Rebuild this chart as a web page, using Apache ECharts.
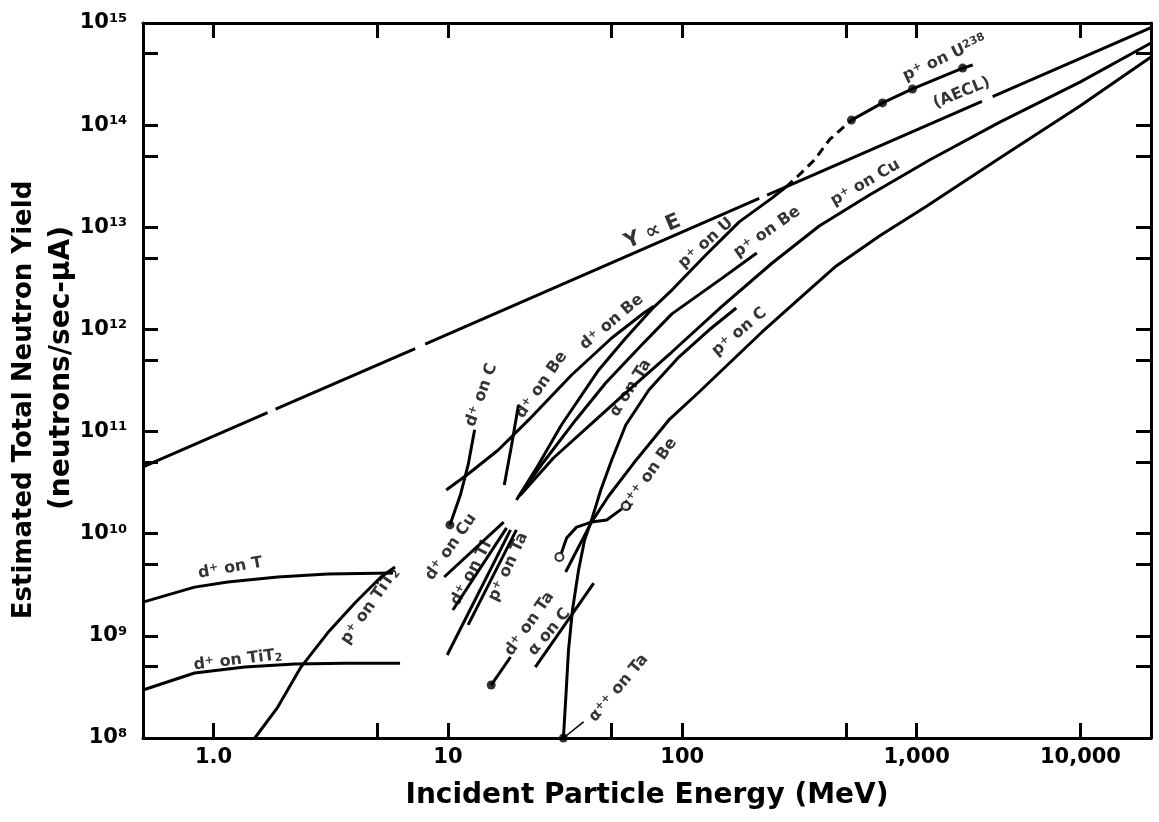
<!DOCTYPE html>
<html>
<head>
<meta charset="utf-8">
<title>Estimated Total Neutron Yield</title>
<script src="https://cdn.jsdelivr.net/npm/echarts@6/dist/echarts.min.js"></script>
<style>
  html, body { margin: 0; padding: 0; background: #fff; }
  #chart { width: 1159px; height: 822px; }
</style>
</head>
<body>
<div id="chart"></div>
<script>
// ---- axes ----
const xTicks = [1, 5, 10, 50, 100, 500, 1000, 5000];
const xLabelValues = [1, 10, 100, 1000, 5000];
const xLabelText = ['1.0', '10', '100', '1,000', '10,000'];
const yTicks = [1e8, 5e8, 1e9, 5e9, 1e10, 5e10, 1e11, 5e11, 1e12, 5e12, 1e13, 5e13, 1e14, 5e14, 1e15];
// top label nudged just under 1e15 so the log extent rounding does not drop it
const yLabelValues = [1e8, 1e9, 1e10, 1e11, 1e12, 1e13, 1e14, 0.99999e15];

// ---- curves: [energy MeV, yield n/sec-uA] ----
// Y ∝ E drawn in pieces (small breaks in the original line)
const yPropE = [
  [[0.5, 4.5e10], [1.70, 1.53e11]],
  [[1.84, 1.66e11], [7.25, 6.5e11]],
  [[8.0, 7.2e11], [213, 1.92e13]],
  [[230, 2.07e13], [1900, 1.71e14]],
  [[2110, 1.9e14], [10000, 9.0e14]]
];
const pOnU238Dashed = [[277, 2.48e13], [315, 3.25e13], [366, 4.56e13], [424, 7.16e13], [527, 1.12e14]];
const pOnU238 = [[527, 1.12e14], [715, 1.65e14], [960, 2.26e14], [1572, 3.62e14], [1735, 3.88e14]];
const aeclPoints = [[527, 1.12e14], [715, 1.65e14], [960, 2.26e14], [1572, 3.62e14]];
const pOnU = [[19.6, 2.14e10], [24.3, 4.71e10], [30.5, 1.16e11], [44.0, 4.01e11], [57.4, 8.24e11], [74.1, 1.58e12],
  [90.3, 2.43e12], [126, 5.35e12], [175, 1.13e13], [242, 1.94e13], [277, 2.48e13]];
const pOnBe = [[20.0, 2.29e10], [25.6, 5.04e10], [35.1, 1.30e11], [47.1, 2.99e11], [65.2, 6.58e11], [90.3, 1.42e12],
  [148, 3.18e12], [208, 5.60e12]];
const pOnCu = [[20.4, 2.39e10], [28.2, 5.51e10], [42.7, 1.30e11], [59.1, 2.55e11], [90.3, 6.01e11], [148, 1.69e12],
  [242, 4.47e12], [384, 1.03e13], [629, 2.07e13], [1135, 4.56e13], [2265, 1.07e14], [4977, 2.64e14], [10000, 6.37e14]];
const pOnC = [[31.8, 4.22e9], [36.1, 7.41e9], [41.0, 1.30e10], [48.5, 2.34e10], [62.1, 4.92e10], [87.7, 1.30e11],
  [118, 2.44e11], [148, 4.01e11], [219, 9.44e11], [315, 1.99e12], [454, 4.18e12], [694, 8.22e12], [1102, 1.61e13],
  [2265, 4.77e13], [4977, 1.54e14], [10000, 4.65e14]];
const alphaOnTa = [[31.1, 1.0e8], [31.8, 2.35e8], [32.7, 7.26e8], [34.0, 1.79e9], [36.1, 4.41e9], [38.3, 8.68e9],
  [41.0, 1.36e10], [44.9, 2.68e10], [50.0, 5.27e10], [57.4, 1.16e11], [72.0, 2.55e11], [96.7, 5.37e11],
  [130, 9.87e11], [170, 1.62e12]];
const alphaPPOnBe = [[30.5, 6.47e9], [32.1, 9.08e9], [35.4, 1.16e10], [41.0, 1.30e10], [47.6, 1.36e10], [55.2, 1.75e10]];
const dOnBe = [[9.84, 2.68e10], [12.2, 3.84e10], [16.4, 6.60e10], [22.1, 1.30e11], [33.7, 3.58e11], [50.0, 8.24e11],
  [68.5, 1.45e12], [75.6, 1.69e12]];
const dOnBeShort = [[20.0, 1.82e11], [18.7, 7.38e10], [17.4, 3.0e10]];
const dOnC = [[10.2, 1.22e10], [11.3, 2.39e10], [12.2, 4.71e10], [13.0, 1.04e11]];
const dOnCu = [[9.64, 3.77e9], [17.3, 1.30e10]];
const dOnTi = [[10.5, 1.79e9], [17.8, 1.14e10]];
const dOnTiLow = [[9.93, 6.49e8], [18.5, 1.09e10]];
const pOnTa = [[12.2, 1.28e9], [19.6, 1.09e10]];
const dOnTa = [[15.3, 3.30e8], [18.5, 6.21e8]];
const alphaOnC = [[23.6, 4.95e8], [41.9, 3.29e9]];
const dOnT = [[0.5, 2.14e9], [0.83, 3.0e9], [1.15, 3.37e9], [1.88, 3.77e9], [3.07, 4.03e9], [5.83, 4.12e9]];
const dOnTiT2 = [[0.5, 2.95e8], [0.83, 4.33e8], [1.36, 4.95e8], [2.22, 5.3e8], [3.63, 5.4e8], [6.25, 5.4e8]];
const pOnTiT2 = [[1.50, 1.0e8], [1.88, 2.01e8], [2.36, 4.95e8], [3.07, 1.07e9], [4.01, 2.10e9], [5.18, 3.77e9], [5.95, 4.72e9]];
const alphaPPOnTaLeader = [[31.1, 1.0e8], [37.9, 1.44e8]];
const filledDots = [[31.1, 1.0e8], [15.3, 3.30e8], [10.2, 1.22e10]];
const openDots = [[29.9, 5.91e9], [57.4, 1.87e10]];

// curve labels: text, energy, yield, angle
const curveLabels = [
  ['p^{+} on U^{238}', 1316, 4.54e14, 25],
  ['(AECL)', 1556, 2.07e14, 22],
  ['p^{+} on U', 126, 7.0e12, 42],
  ['p^{+} on Be', 230, 9.0e12, 35],
  ['p^{+} on Cu', 604, 2.72e13, 30],
  ['d^{+} on Be', 50.0, 1.18e12, 40],
  ['d^{+} on Be', 25.1, 2.86e11, 55],
  ['d^{+} on C', 13.9, 2.28e11, 70],
  ['α on Ta', 60.3, 2.67e11, 58],
  ['p^{+} on C', 175, 9.44e11, 40],
  ['α^{++} on Be', 72, 3.76e10, 55],
  ['α^{++} on Ta', 53.5, 3.08e8, 50],
  ['d^{+} on Ta', 22.3, 1.31e9, 55],
  ['α on C', 27.1, 1.09e9, 50],
  ['d^{+} on Cu', 10.3, 7.41e9, 55],
  ['d^{+} on Ti', 12.6, 4.12e9, 62],
  ['p^{+} on Ta', 18.1, 4.72e9, 65],
  ['d^{+} on T', 1.18, 4.61e9, 10],
  ['d^{+} on TiT_{2}', 1.27, 5.8e8, 7],
  ['p^{+} on TiT_{2}', 4.65, 1.96e9, 55]
];
const propLabel = ['Y ∝ E', 74.8, 9.0e12, 23];

const ink = '#000';
const font = "'DejaVu Sans', 'Liberation Sans', Arial, sans-serif";

function toRich(s) {
  const r = '{n|' + s.replace(/\^\{([^}]*)\}/g, '}{s|$1}{n|').replace(/_\{([^}]*)\}/g, '}{u|$1}{n|') + '}';
  return r.replace(/\{n\|\}/g, '');
}

function curve(data, extra) {
  return Object.assign({
    type: 'line',
    data: data,
    symbol: 'none',
    silent: true,
    clip: true,
    lineStyle: { color: ink, width: 3 }
  }, extra || {});
}

const labelRich = {
  n: { fontFamily: font, fontWeight: 'bold', fontSize: 16, color: ink },
  s: { fontFamily: font, fontWeight: 'bold', fontSize: 11, color: ink, verticalAlign: 'top', padding: [0, 0, 6, 0] },
  u: { fontFamily: font, fontWeight: 'bold', fontSize: 11, color: ink, verticalAlign: 'bottom', padding: [6, 0, 0, 0] },
  big: { fontFamily: font, fontWeight: 'bold', fontSize: 21, color: ink }
};

function tickText(v) {
  for (let i = 0; i < xLabelValues.length; i++) {
    if (Math.abs(Math.log10(v) - Math.log10(xLabelValues[i])) < 0.01) return xLabelText[i];
  }
  return '';
}

const chart = echarts.init(document.getElementById('chart'), null, { renderer: 'canvas' });

const series = [];
yPropE.forEach(seg => series.push(curve(seg)));
series.push(curve(pOnU238Dashed, { lineStyle: { color: ink, width: 3, type: [9, 6] } }));
[pOnU238, pOnU, pOnBe, pOnCu, pOnC, alphaOnTa, alphaPPOnBe, dOnBe, dOnBeShort, dOnC, dOnCu, dOnTi, dOnTiLow,
  pOnTa, dOnTa, alphaOnC, dOnT, dOnTiT2, pOnTiT2].forEach(d => series.push(curve(d)));
series.push(curve(alphaPPOnTaLeader, { lineStyle: { color: ink, width: 1.5 } }));
series.push({
  type: 'scatter', data: aeclPoints.concat(filledDots), symbol: 'circle', symbolSize: 9, silent: true,
  itemStyle: { color: ink }
});
series.push({
  type: 'scatter', data: openDots, symbol: 'circle', symbolSize: 8, silent: true, z: 5,
  itemStyle: { color: '#fff', borderColor: ink, borderWidth: 2 }
});
series.push({
  type: 'scatter', symbolSize: 1, silent: true,
  itemStyle: { color: 'rgba(0,0,0,0)' },
  data: curveLabels.map(l => ({
    value: [l[1], l[2]],
    label: { formatter: toRich(l[0]), rotate: l[3] }
  })).concat([{
    value: [propLabel[1], propLabel[2]],
    label: { formatter: '{big|' + propLabel[0] + '}', rotate: propLabel[3] }
  }]),
  label: { show: true, position: 'inside', rich: labelRich }
});

const tickStyle = { color: ink, width: 3 };

chart.setOption({
  animation: false,
  backgroundColor: '#fff',
  grid: { left: 143, right: 8, top: 23, bottom: 84, containLabel: false },
  xAxis: [{
    type: 'log', logBase: 10, min: 0.5, max: 10000, position: 'bottom',
    axisLine: { show: true, onZero: false, lineStyle: { color: ink, width: 3 } },
    axisTick: { show: true, inside: true, length: 15, customValues: xTicks, lineStyle: tickStyle },
    minorTick: { show: false },
    splitLine: { show: false },
    axisLabel: {
      customValues: xLabelValues, formatter: tickText, margin: 9,
      fontFamily: font, fontWeight: 'bold', fontSize: 21, color: ink
    },
    name: 'Incident Particle Energy (MeV)', nameLocation: 'middle', nameGap: 44,
    nameTextStyle: { fontFamily: font, fontWeight: 'bold', fontSize: 28, color: ink }
  }, {
    type: 'log', logBase: 10, min: 0.5, max: 10000, position: 'top',
    axisLine: { show: true, onZero: false, lineStyle: { color: ink, width: 3 } },
    axisTick: { show: true, inside: true, length: 15, customValues: xTicks, lineStyle: tickStyle },
    axisLabel: { show: false },
    splitLine: { show: false }
  }],
  yAxis: [{
    type: 'log', logBase: 10, min: 1e8, max: 1e15, position: 'left',
    axisLine: { show: true, onZero: false, lineStyle: { color: ink, width: 3 } },
    axisTick: { show: true, inside: true, length: 15, customValues: yTicks, lineStyle: tickStyle },
    minorTick: { show: false },
    splitLine: { show: false },
    axisLabel: {
      customValues: yLabelValues, margin: 16,
      formatter: v => '{b|10}{e|' + Math.round(Math.log10(v)) + '}',
      rich: {
        b: { fontFamily: font, fontWeight: 'bold', fontSize: 21, color: ink },
        e: { fontFamily: font, fontWeight: 'bold', fontSize: 13, color: ink, verticalAlign: 'top', padding: [0, 0, 9, 0] }
      }
    }
  }, {
    type: 'log', logBase: 10, min: 1e8, max: 1e15, position: 'right',
    axisLine: { show: true, onZero: false, lineStyle: { color: ink, width: 3 } },
    axisTick: { show: true, inside: true, length: 15, customValues: yTicks, lineStyle: tickStyle },
    axisLabel: { show: false },
    splitLine: { show: false }
  }],
  graphic: [{
    type: 'text', x: 24, y: 400, rotation: Math.PI / 2,
    style: {
      text: 'Estimated Total Neutron Yield', align: 'center', verticalAlign: 'middle',
      font: 'bold 26px ' + font, fill: ink
    }
  }, {
    type: 'text', x: 62, y: 368, rotation: Math.PI / 2,
    style: {
      text: '(neutrons/sec-μA)', align: 'center', verticalAlign: 'middle',
      font: 'bold 28px ' + font, fill: ink
    }
  }],
  series: series
});
</script>
</body>
</html>
